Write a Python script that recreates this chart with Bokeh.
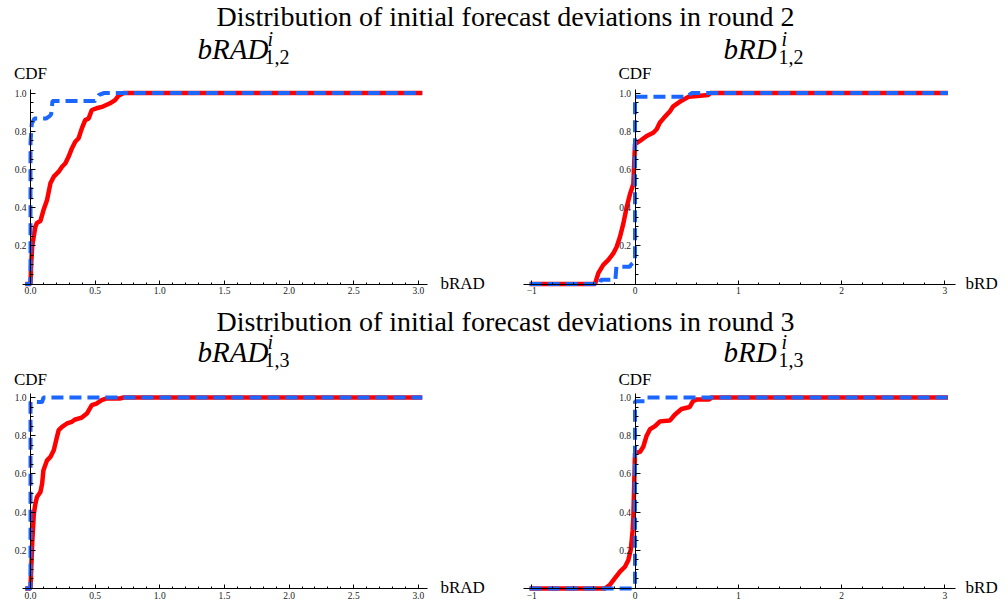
from bokeh.plotting import figure
from bokeh.layouts import column, row
from bokeh.models import Range1d, LinearAxis, FixedTicker, PrintfTickFormatter, Label
from bokeh.core.properties import value
from bokeh.embed import file_html
from bokeh.resources import INLINE

# ---------------- data ----------------
titles = ["Distribution of initial forecast deviations in round 2",
          "Distribution of initial forecast deviations in round 3"]
sub_left = ["1,2", "1,3"]
y_label = "CDF"
x_label_left = "bRAD"
x_label_right = "bRD"

y_ticks = [0.2, 0.4, 0.6, 0.8, 1.0]
y_minor = [0.05, 0.1, 0.15, 0.25, 0.3, 0.35, 0.45, 0.5, 0.55, 0.65, 0.7, 0.75, 0.85, 0.9, 0.95]
bRAD_ticks = [0.0, 0.5, 1.0, 1.5, 2.0, 2.5, 3.0]
bRAD_minor = [0.1, 0.2, 0.3, 0.4, 0.6, 0.7, 0.8, 0.9, 1.1, 1.2, 1.3, 1.4, 1.6, 1.7, 1.8, 1.9,
              2.1, 2.2, 2.3, 2.4, 2.6, 2.7, 2.8, 2.9]
bRD_ticks = [-1, 0, 1, 2, 3]
bRD_minor = [-0.8, -0.6, -0.4, -0.2, 0.2, 0.4, 0.6, 0.8, 1.2, 1.4, 1.6, 1.8, 2.2, 2.4, 2.6, 2.8]

# round 2, bRAD
r2_rad_red_x = [-0.04, 0, 0.005, 0.013, 0.038, 0.05, 0.077, 0.1, 0.128, 0.154, 0.18, 0.218, 0.244,
                0.27, 0.295, 0.32, 0.346, 0.372, 0.397, 0.423, 0.45, 0.474, 0.51, 0.56, 0.615,
                0.654, 0.68, 0.72, 3.03]
r2_rad_red_y = [0, 0, 0.1, 0.2, 0.3, 0.32, 0.33, 0.386, 0.44, 0.527, 0.562, 0.588, 0.614,
                0.632, 0.667, 0.71, 0.745, 0.763, 0.815, 0.858, 0.867, 0.911, 0.92, 0.929, 0.946,
                0.963, 0.985, 1.0, 1.0]
r2_rad_blue_x = [-0.04, 0, 0, 0.01, 0.03, 0.12, 0.15, 0.16, 0.17, 0.5, 0.53, 0.57, 3.03]
r2_rad_blue_y = [0, 0, 0.74, 0.84, 0.866, 0.866, 0.88, 0.89, 0.958, 0.958, 0.99, 1.0, 1.0]

# round 2, bRD
r2_rd_red_x = [-1.02, -0.387, -0.355, -0.307, -0.258, -0.21, -0.177, -0.145, -0.113, -0.08,
               -0.048, -0.016, 0, 0.048, 0.113, 0.177, 0.21, 0.24, 0.28, 0.339, 0.37, 0.45,
               0.52, 0.71, 0.73, 3.03]
r2_rd_red_y = [0, 0, 0.057, 0.1, 0.126, 0.16, 0.195, 0.247, 0.316, 0.403,
               0.472, 0.524, 0.732, 0.749, 0.775, 0.792, 0.81, 0.844, 0.87, 0.905, 0.93, 0.96,
               0.98, 0.99, 1.0, 1.0]
r2_rd_blue_x = [-1.02, -0.34, -0.33, -0.19, -0.18, -0.05, -0.04, 0, 0, 0.5, 0.55, 3.03]
r2_rd_blue_y = [0, 0, 0.022, 0.022, 0.09, 0.09, 0.1, 0.12, 0.98, 0.98, 1.0, 1.0]

# round 3, bRAD
r3_rad_red_x = [-0.04, 0, 0.013, 0.026, 0.038, 0.05, 0.077, 0.09, 0.1, 0.128, 0.154, 0.18,
                0.205, 0.218, 0.244, 0.282, 0.32, 0.346, 0.397, 0.436, 0.474, 0.51, 0.55,
                0.59, 0.69, 0.72, 3.03]
r3_rad_red_y = [0, 0, 0.235, 0.392, 0.444, 0.479, 0.505, 0.549, 0.619, 0.671, 0.689, 0.724,
                0.794, 0.829, 0.846, 0.864, 0.873, 0.885, 0.895, 0.916, 0.96, 0.968, 0.986,
                0.995, 0.995, 1.0, 1.0]
r3_rad_blue_x = [-0.04, 0, 0, 0.09, 0.1, 3.03]
r3_rad_blue_y = [0, 0, 0.976, 0.976, 1.0, 1.0]

# round 3, bRD
r3_rd_red_x = [-1.02, -0.29, -0.242, -0.194, -0.145, -0.097, -0.065, -0.042, -0.032, -0.023,
               -0.016, 0, 0.048, 0.08, 0.113, 0.145, 0.194, 0.242, 0.339, 0.385, 0.45, 0.53,
               0.56, 0.6, 0.72, 0.74, 3.03]
r3_rd_red_y = [0, 0, 0.02, 0.054, 0.088, 0.114, 0.148, 0.2, 0.252, 0.303,
               0.372, 0.708, 0.715, 0.742, 0.8, 0.834, 0.85, 0.875, 0.88, 0.91, 0.94, 0.95,
               0.98, 0.99, 0.99, 1.0, 1.0]
r3_rd_blue_x = [-1.02, -0.03, 0, 0, 0.1, 0.11, 3.03]
r3_rd_blue_y = [0, 0, 0.02, 0.98, 0.98, 1.0, 1.0]

# ---------------- style ----------------
RED = "#ff0000"
BLUE = "#1a66ff"
SERIF = "Liberation Serif"
TICK_COLOR = "#222222"
TOTAL_W = 1008
TITLE_SIZE = 28
SYM_SIZE = 29
SCRIPT_SIZE = 20
LABEL_SIZE = 17
SHIFT = 0.31  # measured offset of rendered baseline, in em
LEFT_AXIS_X = 30      # page x of the y axis, left panels
RIGHT_AXIS_X = 634.5  # page x of the y axis, right panels


def header_fig(H, title, sub, base_title, base_sub, base_cdf):
    """Title, panel subtitles and the CDF axis names, laid out in pixels."""
    p = figure(width=TOTAL_W, height=H, x_range=Range1d(0, TOTAL_W), y_range=Range1d(H, 0),
               x_axis_type=None, y_axis_type=None, output_backend="svg", title=None,
               toolbar_location=None, min_border=0, outline_line_color=None)
    p.text(x=[505], y=[base_title - SHIFT * TITLE_SIZE], text=[title], text_font=value(SERIF),
           text_font_size=f"{TITLE_SIZE}px", text_align="center", text_baseline="alphabetic",
           text_color="black")
    p.text(x=[197, 723], y=[base_sub - SHIFT * SYM_SIZE] * 2, text=["bRAD", "bRD"],
           text_font=value(SERIF), text_font_size=f"{SYM_SIZE}px", text_font_style="italic",
           text_align="left", text_baseline="alphabetic", text_color="black")
    p.text(x=[267, 781], y=[base_sub - 12 - SHIFT * SCRIPT_SIZE] * 2, text=["i", "i"],
           text_font=value(SERIF), text_font_size=f"{SCRIPT_SIZE}px", text_font_style="italic",
           text_align="left", text_baseline="alphabetic", text_color="black")
    p.text(x=[264, 778], y=[base_sub + 6 - SHIFT * SCRIPT_SIZE] * 2, text=[sub, sub],
           text_font=value(SERIF), text_font_size=f"{SCRIPT_SIZE}px", text_align="left",
           text_baseline="alphabetic", text_color="black")
    p.text(x=[LEFT_AXIS_X, RIGHT_AXIS_X], y=[base_cdf - SHIFT * LABEL_SIZE] * 2,
           text=[y_label, y_label], text_font=value(SERIF),
           text_font_size=f"{LABEL_SIZE}px", text_align="center",
           text_baseline="alphabetic", text_color="black")
    return p


def panel(W, H, x0_px, kx, y0_px, ky, bounds, ticks, minor, fmt, overrides, xlab,
          xlab_x, rx, ry, bx, by):
    xr = Range1d(-x0_px / kx, (W - x0_px) / kx)
    yr = Range1d(-(H - y0_px) / ky, y0_px / ky)
    p = figure(width=W, height=H, x_range=xr, y_range=yr,
               x_axis_type=None, y_axis_type=None, output_backend="svg", title=None,
               toolbar_location=None, min_border=0, outline_line_color=None)
    p.line(rx, ry, color=RED, line_width=4.5)
    p.line(bx, by, color=BLUE, line_width=4, line_dash="12 6")

    xa = LinearAxis(fixed_location=0, bounds=bounds,
                    ticker=FixedTicker(ticks=ticks, minor_ticks=minor),
                    formatter=PrintfTickFormatter(format=fmt),
                    major_label_overrides=overrides,
                    major_tick_in=4, major_tick_out=0, minor_tick_in=2, minor_tick_out=0,
                    major_label_standoff=3, major_label_text_font=SERIF,
                    major_label_text_font_size="9.5px", major_label_text_color=TICK_COLOR,
                    axis_line_color="black", major_tick_line_color="black",
                    minor_tick_line_color="black")
    p.add_layout(xa, "below")
    ya = LinearAxis(fixed_location=0, bounds=(0, 1.02),
                    ticker=FixedTicker(ticks=y_ticks, minor_ticks=y_minor),
                    formatter=PrintfTickFormatter(format="%.1f"),
                    major_tick_in=5, major_tick_out=0, minor_tick_in=3, minor_tick_out=0,
                    major_label_standoff=4, major_label_text_font=SERIF,
                    major_label_text_font_size="9.5px", major_label_text_color=TICK_COLOR,
                    axis_line_color="black", major_tick_line_color="black",
                    minor_tick_line_color="black")
    p.add_layout(ya, "left")

    p.add_layout(Label(x=xlab_x, y=0, y_offset=1, text=xlab, text_font=SERIF,
                       text_font_size=f"{LABEL_SIZE}px", text_align="left",
                       text_baseline="middle", text_color="black"))
    return p


# row 1: header 0..84, panels 84..305 (x axis at page y 283.5)
t1 = header_fig(84, titles[0], sub_left[0], 25, 57, 78)
p1 = panel(505, 221, LEFT_AXIS_X, 129.3, 199.5, 191, (-0.06, 3.07), bRAD_ticks, bRAD_minor,
           "%.1f", {}, x_label_left, 3.17,
           r2_rad_red_x, r2_rad_red_y, r2_rad_blue_x, r2_rad_blue_y)
p2 = panel(503, 221, RIGHT_AXIS_X - 505, 103.3, 199.5, 191, (-1.08, 3.10), bRD_ticks, bRD_minor,
           "%d", {-1: "\u22121"}, x_label_right, 3.2,
           r2_rd_red_x, r2_rd_red_y, r2_rd_blue_x, r2_rd_blue_y)
# row 2: header 305..389, panels 389..600 (x axis at page y 588)
t2 = header_fig(84, titles[1], sub_left[1], 25, 55, 79)
p3 = panel(505, 211, LEFT_AXIS_X, 129.3, 199, 191, (-0.06, 3.07), bRAD_ticks, bRAD_minor,
           "%.1f", {}, x_label_left, 3.17,
           r3_rad_red_x, r3_rad_red_y, r3_rad_blue_x, r3_rad_blue_y)
p4 = panel(503, 211, RIGHT_AXIS_X - 505, 103.3, 199, 191, (-1.08, 3.10), bRD_ticks, bRD_minor,
           "%d", {-1: "\u22121"}, x_label_right, 3.2,
           r3_rd_red_x, r3_rd_red_y, r3_rd_blue_x, r3_rd_blue_y)

layout = column(t1, row(p1, p2), t2, row(p3, p4))
open("out.html", "w").write(file_html(layout, INLINE))
